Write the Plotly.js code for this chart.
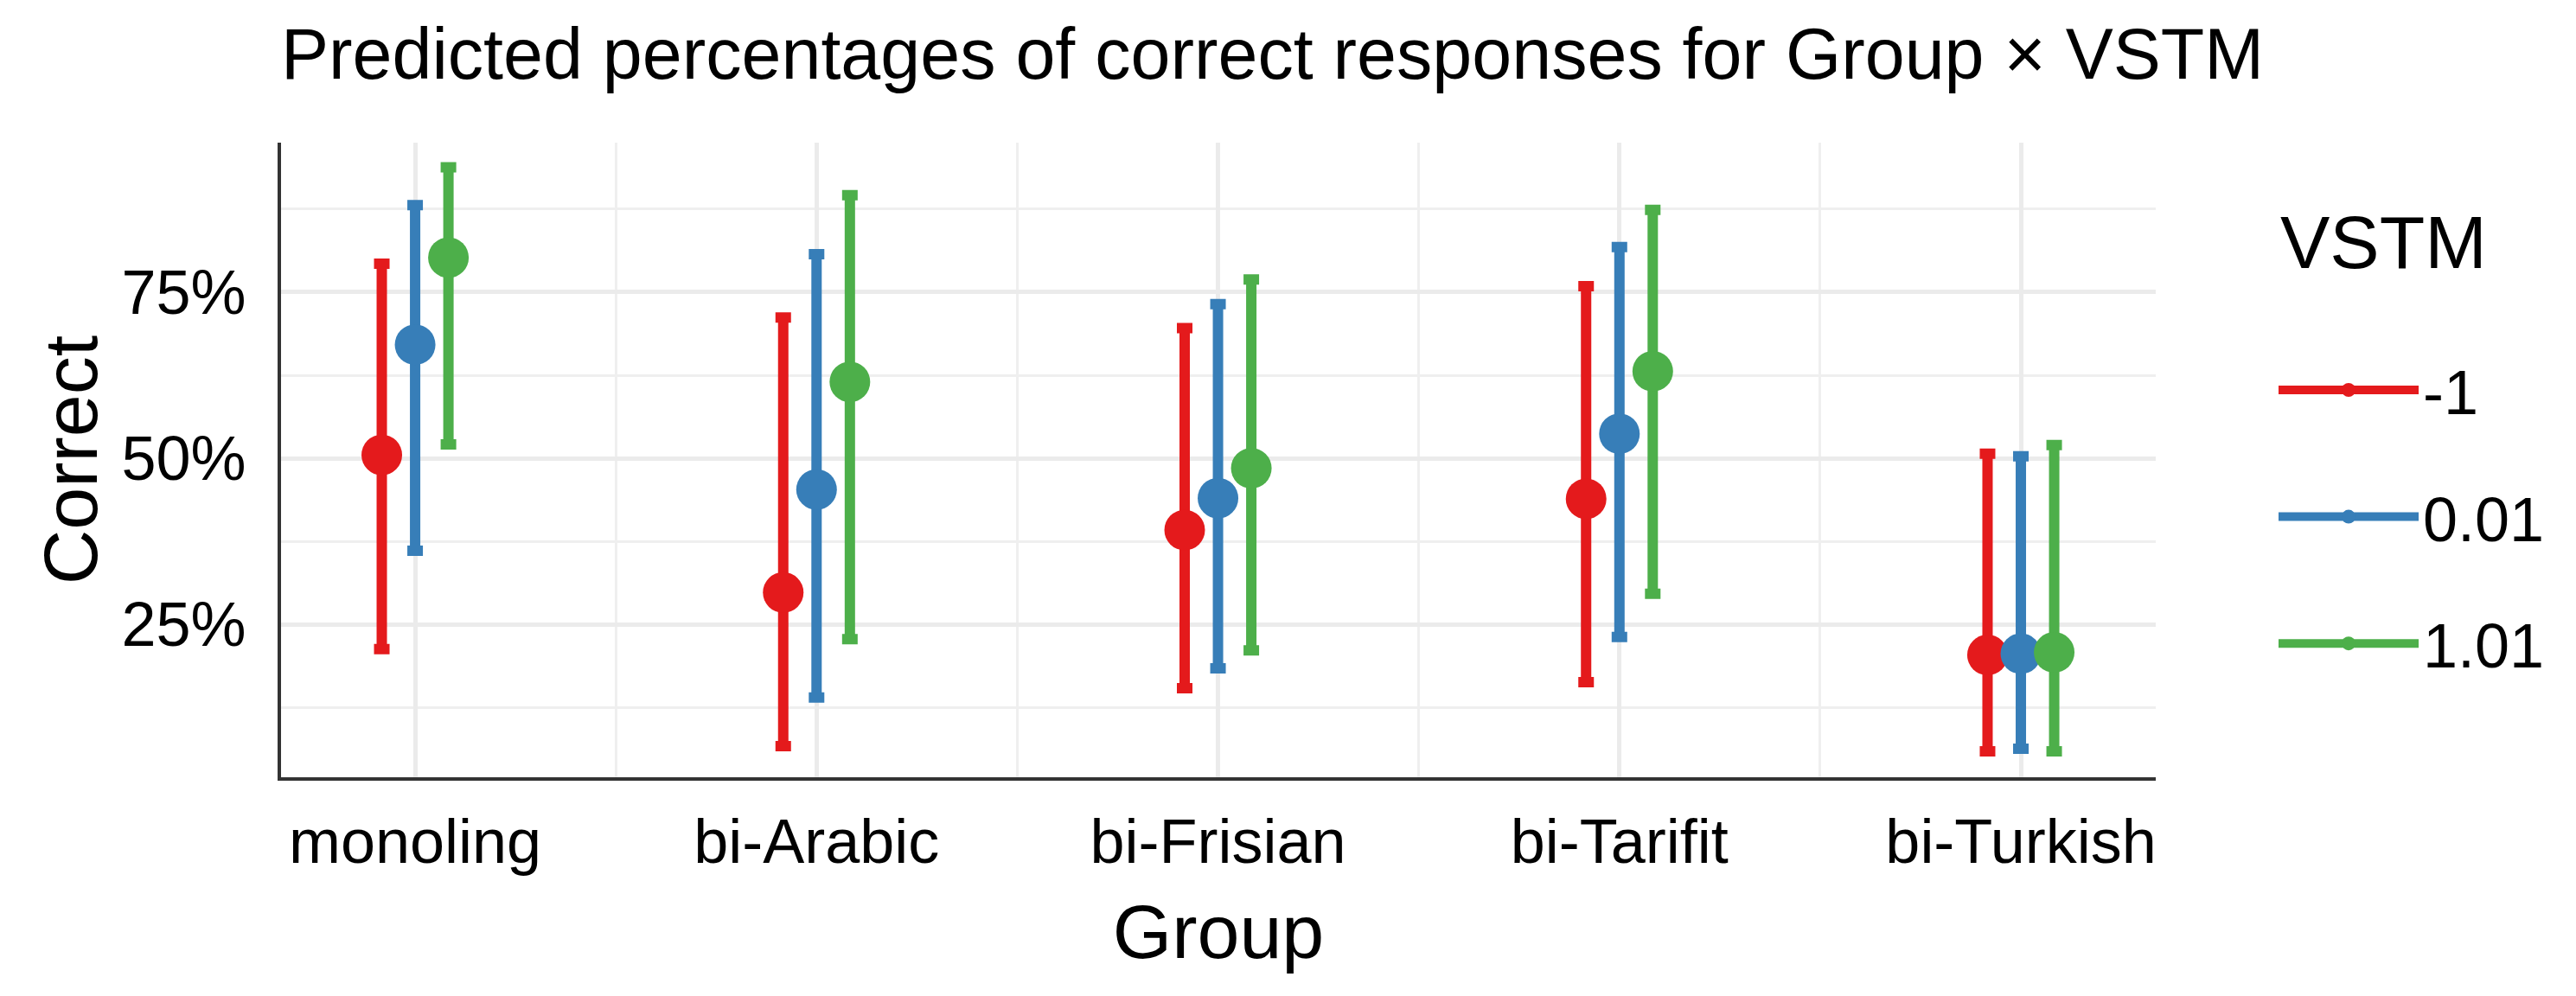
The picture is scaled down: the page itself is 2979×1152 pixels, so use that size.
<!DOCTYPE html>
<html>
<head>
<meta charset="utf-8">
<script src="https://cdn.plot.ly/plotly-3.0.1.min.js"></script>
<style>html,body{margin:0;padding:0;background:#fff;}#chart{width:2979px;height:1152px;}</style>
</head>
<body>
<div id="chart"></div>
<script>
// Categories
const groups = ['monoling', 'bi-Arabic', 'bi-Frisian', 'bi-Tarifit', 'bi-Turkish'];
const vstmLevels = ['-1', '0.01', '1.01'];

// Predicted percentage correct (point estimates)
const estNeg1 = [50.5, 29.8, 39.2, 43.9, 20.4];
const est001  = [67.1, 45.3, 44.0, 53.7, 20.6];
const est101  = [80.2, 61.5, 48.5, 63.1, 20.8];

// Lower confidence limits
const lowNeg1 = [21.3, 6.7, 15.4, 16.3, 5.9];
const low001  = [36.1, 14.0, 18.4, 23.1, 6.3];
const low101  = [52.1, 22.8, 21.1, 29.6, 5.9];

// Upper confidence limits
const upNeg1 = [79.3, 71.2, 69.6, 75.9, 50.7];
const up001  = [88.1, 80.7, 73.2, 81.8, 50.3];
const up101  = [93.8, 89.6, 76.9, 87.4, 52.0];

// Tick values / labels
const yTickVals = [25, 50, 75];
const yTickText = ['25%', '50%', '75%'];
const yMinorVals = [12.5, 37.5, 62.5, 87.5];

const estimates = [estNeg1, est001, est101];
const lowers = [lowNeg1, low001, low101];
const uppers = [upNeg1, up001, up101];
const colors = ['#E41A1C', '#377EB8', '#4DAF4A'];
const DODGE = 0.083;
const FONT = 'Liberation Sans, Arial, Helvetica, sans-serif';

const groupPos = groups.map((g, i) => i + 1);

const dataTraces = vstmLevels.map((lvl, k) => {
  const off = (k - 1) * DODGE;
  const y = estimates[k];
  return {
    type: 'scatter',
    mode: 'markers',
    name: lvl,
    legendgroup: lvl,
    showlegend: false,
    x: groupPos.map(p => p + off),
    y: y,
    text: groups,
    marker: {size: 47, color: colors[k]},
    error_y: {
      type: 'data',
      symmetric: false,
      array: uppers[k].map((u, i) => u - y[i]),
      arrayminus: lowers[k].map((l, i) => y[i] - l),
      color: colors[k],
      thickness: 12,
      width: 9
    },
    hovertemplate: '%{text}<br>VSTM ' + lvl + ': %{y:.1f}%<extra></extra>'
  };
});

// legend entries (point + line key, as in the original legend)
const legendTraces = vstmLevels.map((lvl, k) => ({
  type: 'scatter',
  mode: 'lines+markers',
  name: lvl,
  legendgroup: lvl,
  showlegend: true,
  x: [null],
  y: [null],
  line: {width: 12, color: colors[k]},
  marker: {size: 47, color: colors[k]},
  hoverinfo: 'skip'
}));

const layout = {
  width: 2979,
  height: 1152,
  margin: {l: 325, r: 486, t: 165, b: 253},
  paper_bgcolor: '#ffffff',
  plot_bgcolor: '#ffffff',
  font: {family: FONT, color: '#000000', size: 72},
  title: {
    text: 'Predicted percentages of correct responses for Group × VSTM',
    font: {family: FONT, size: 82.6, color: '#000000'},
    x: 0, xref: 'paper', xanchor: 'left',
    y: 1 - 62 / 1152, yref: 'container', yanchor: 'middle'
  },
  xaxis: {
    range: [0.666, 5.336],
    tickmode: 'array',
    tickvals: groupPos,
    ticktext: groups,
    ticks: '',
    ticklabelstandoff: 9,
    tickfont: {family: FONT, size: 72, color: '#000000'},
    showgrid: true,
    gridcolor: '#EBEBEB',
    gridwidth: 5,
    minor: {tickmode: 'array', tickvals: [1.5, 2.5, 3.5, 4.5], showgrid: true, gridcolor: '#EFEFEF', gridwidth: 3, ticks: ''},
    showline: true,
    linecolor: '#333333',
    linewidth: 4,
    zeroline: false,
    title: {text: 'Group', font: {family: FONT, size: 88, color: '#000000'}, standoff: 35}
  },
  yaxis: {
    range: [2.0, 97.5],
    tickmode: 'array',
    tickvals: yTickVals,
    ticktext: yTickText,
    ticks: '',
    ticklabelstandoff: 22,
    tickfont: {family: FONT, size: 72, color: '#000000'},
    showgrid: true,
    gridcolor: '#EBEBEB',
    gridwidth: 5,
    minor: {tickmode: 'array', tickvals: yMinorVals, showgrid: true, gridcolor: '#EFEFEF', gridwidth: 3, ticks: ''},
    showline: true,
    linecolor: '#333333',
    linewidth: 4,
    zeroline: false,
    title: {text: 'Correct', font: {family: FONT, size: 88, color: '#000000'}, standoff: 0}
  },
  showlegend: true,
  legend: {
    x: (2630 - 325) / 2168, xanchor: 'left', xref: 'paper',
    y: 0.683, yanchor: 'top', yref: 'paper',
    font: {family: FONT, size: 72, color: '#000000'},
    itemwidth: 162,
    tracegroupgap: 50,
    bgcolor: 'rgba(0,0,0,0)'
  },
  annotations: [{
    text: 'VSTM',
    xref: 'paper', yref: 'paper',
    x: (2635 - 325) / 2168, xanchor: 'left',
    y: (899 - 280) / 734, yanchor: 'middle',
    showarrow: false,
    font: {family: FONT, size: 86, color: '#000000'}
  }]
};

Plotly.newPlot('chart', dataTraces.concat(legendTraces), layout, {displayModeBar: false, responsive: false});
</script>
</body>
</html>
